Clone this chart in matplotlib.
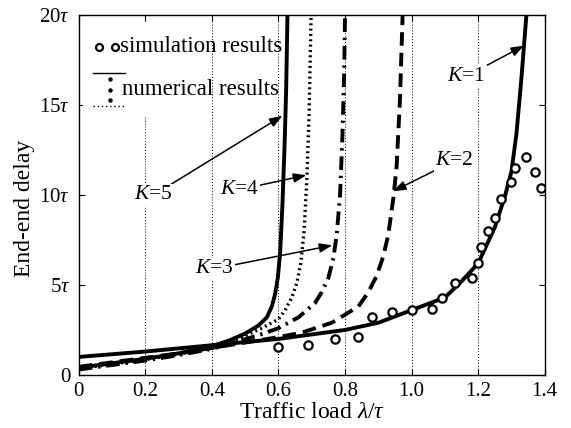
import matplotlib
matplotlib.use('Agg')
import matplotlib.pyplot as plt
from matplotlib.patches import Rectangle
from matplotlib.lines import Line2D

plt.rcParams['font.family'] = ['Liberation Serif', 'DejaVu Serif']
plt.rcParams['mathtext.fontset'] = 'custom'
plt.rcParams['mathtext.rm'] = 'Liberation Serif'
plt.rcParams['mathtext.it'] = 'Liberation Serif:italic'

# ---- numerical curves ----
k1_x = [0, 0.2, 0.4, 0.6, 0.8, 0.9, 1.0, 1.1, 1.15, 1.2, 1.25, 1.28, 1.30, 1.315, 1.33, 1.345]
k1_y = [1.0, 1.3, 1.65, 2.0, 2.5, 2.9, 3.6, 4.3, 5.2, 6.2, 8.2, 9.9, 11.3, 13.4, 16.5, 20]

k2_x = [0, 0.1, 0.2, 0.3, 0.4, 0.5, 0.6, 0.67, 0.76, 0.84, 0.87, 0.895, 0.915, 0.93,
        0.945, 0.955, 0.965, 0.973]
k2_y = [0.45, 0.7, 0.95, 1.2, 1.5, 1.8, 2.1, 2.35, 2.9, 3.8, 4.6, 5.5, 6.6, 7.8,
        9.8, 11.6, 15.3, 20]

k3_x = [0, 0.1, 0.2, 0.3, 0.4, 0.54, 0.6, 0.66, 0.71, 0.73, 0.75, 0.765, 0.775, 0.785,
        0.792, 0.797, 0.8]
k3_y = [0.3, 0.55, 0.8, 1.1, 1.45, 2.2, 2.6, 3.2, 4.0, 4.6, 5.4, 6.5, 7.8, 10.0,
        13.2, 16.5, 20]

k4_x = [0, 0.1, 0.2, 0.3, 0.4, 0.48, 0.55, 0.6, 0.62, 0.64, 0.655, 0.667, 0.677, 0.685,
        0.692, 0.698]
k4_y = [0.35, 0.6, 0.85, 1.15, 1.5, 2.0, 2.6, 3.1, 3.6, 4.3, 5.1, 6.2, 8.0, 10.8,
        14.5, 20]

k5_x = [0, 0.1, 0.2, 0.3, 0.4, 0.45, 0.5, 0.54, 0.565, 0.58, 0.59, 0.598, 0.605, 0.612,
        0.618, 0.623, 0.627]
k5_y = [0.4, 0.65, 0.9, 1.2, 1.6, 1.9, 2.3, 2.75, 3.2, 3.8, 4.5, 5.4, 6.8, 9.5,
        12.6, 15.8, 20]

# ---- simulation results ----
sim_x = [0.6, 0.69, 0.77, 0.84, 0.88, 0.94, 1.0, 1.06, 1.09, 1.13, 1.18, 1.2, 1.21,
         1.23, 1.25, 1.27, 1.3, 1.31, 1.345, 1.37, 1.39]
sim_y = [1.55, 1.65, 2.0, 2.1, 3.2, 3.5, 3.6, 3.65, 4.3, 5.1, 5.4, 6.2, 7.1,
         8.0, 8.7, 9.8, 10.7, 11.5, 12.1, 11.3, 10.4]

x_ticks = [0, 0.2, 0.4, 0.6, 0.8, 1.0, 1.2, 1.4]
x_labels = ['0', '0.2', '0.4', '0.6', '0.8', '1.0', '1.2', '1.4']
y_ticks = [0, 5, 10, 15, 20]
y_labels = ['0', r'5$\tau$', r'10$\tau$', r'15$\tau$', r'20$\tau$']

fig = plt.figure(figsize=(5.71, 4.28), dpi=100)
ax = fig.add_axes([0.138, 0.124, 0.816, 0.841])

# dotted vertical grid
for gx in x_ticks[1:-1]:
    ax.axvline(gx, color='k', lw=0.7, ls=(0, (1, 2)), zorder=1)

ax.plot(k1_x, k1_y, color='k', lw=2.8, zorder=3)
ax.plot(k2_x, k2_y, color='k', lw=2.8, ls=(0, (3.5, 1.8)), zorder=3)
ax.plot(k3_x, k3_y, color='k', lw=2.8, ls=(0, (3.5, 1.5, 0.6, 1.5)), zorder=3)
ax.plot(k4_x, k4_y, color='k', lw=2.4, ls=(0, (0.6, 1.0)), zorder=3)
ax.plot(k5_x, k5_y, color='k', lw=2.8, zorder=3)
ax.plot(sim_x, sim_y, 'o', mfc='white', mec='k', ms=6, mew=1.6, zorder=4)

ax.set_xlim(0, 1.4)
ax.set_ylim(0, 20)
ax.set_xticks(x_ticks)
ax.set_xticklabels(x_labels)
ax.set_yticks(y_ticks)
ax.set_yticklabels(y_labels)
ax.tick_params(direction='in', top=True, right=True, length=4, labelsize=15)
ax.tick_params(axis='x', pad=5)
ax.tick_params(axis='y', pad=6)
ax.set_xlabel(r'Traffic load $\lambda/\tau$', fontsize=17, labelpad=1)
ax.set_ylabel('End-end delay', fontsize=17)
ax.yaxis.set_label_coords(-0.095, 0.464)
for s in ax.spines.values():
    s.set_linewidth(1.0)

# legend drawn by hand on a white patch
T = ax.transAxes
ax.add_patch(Rectangle((0.01, 0.72), 0.25, 0.26, transform=T, facecolor='white',
                       edgecolor='none', zorder=2))
ax.plot([0.043, 0.077], [0.912, 0.912], 'o', mfc='white', mec='k', ms=5, mew=1.6,
        transform=T, zorder=5, clip_on=False)
ax.text(0.088, 0.912, 'simulation results', transform=T, fontsize=16.5,
        va='center', ha='left', zorder=5)
ax.add_line(Line2D([0.03, 0.1], [0.839, 0.839], color='k', lw=1.0, transform=T, zorder=5))
ax.plot([0.067] * 3, [0.822, 0.792, 0.764], 'o', color='k', ms=2.2, transform=T, zorder=5)
ax.add_line(Line2D([0.03, 0.1], [0.747, 0.747], color='k', lw=1.0, ls=(0, (1, 2)),
                   transform=T, zorder=5))
ax.text(0.092, 0.792, 'numerical results', transform=T, fontsize=16.5,
        va='center', ha='left', zorder=5)

# K labels with arrows
arrow = dict(arrowstyle='-|>,head_length=0.5,head_width=0.18', lw=1.1, color='k',
             shrinkA=0, shrinkB=0)
box = dict(facecolor='white', edgecolor='none', pad=1)
notes = [('$K$=5', (0.225, 10.0), (0.612, 14.4)),
         ('$K$=4', (0.483, 10.3), (0.684, 11.1)),
         ('$K$=3', (0.408, 5.9), (0.762, 7.2)),
         ('$K$=2', (1.129, 11.9), (0.944, 10.2)),
         ('$K$=1', (1.165, 16.6), (1.338, 18.3))]
for label, txt, tip in notes:
    ax.annotate(label, xy=tip, xytext=txt, fontsize=15.5, ha='center', va='center',
                arrowprops=arrow, bbox=box, zorder=6)

fig.savefig('out.png', dpi=100)
